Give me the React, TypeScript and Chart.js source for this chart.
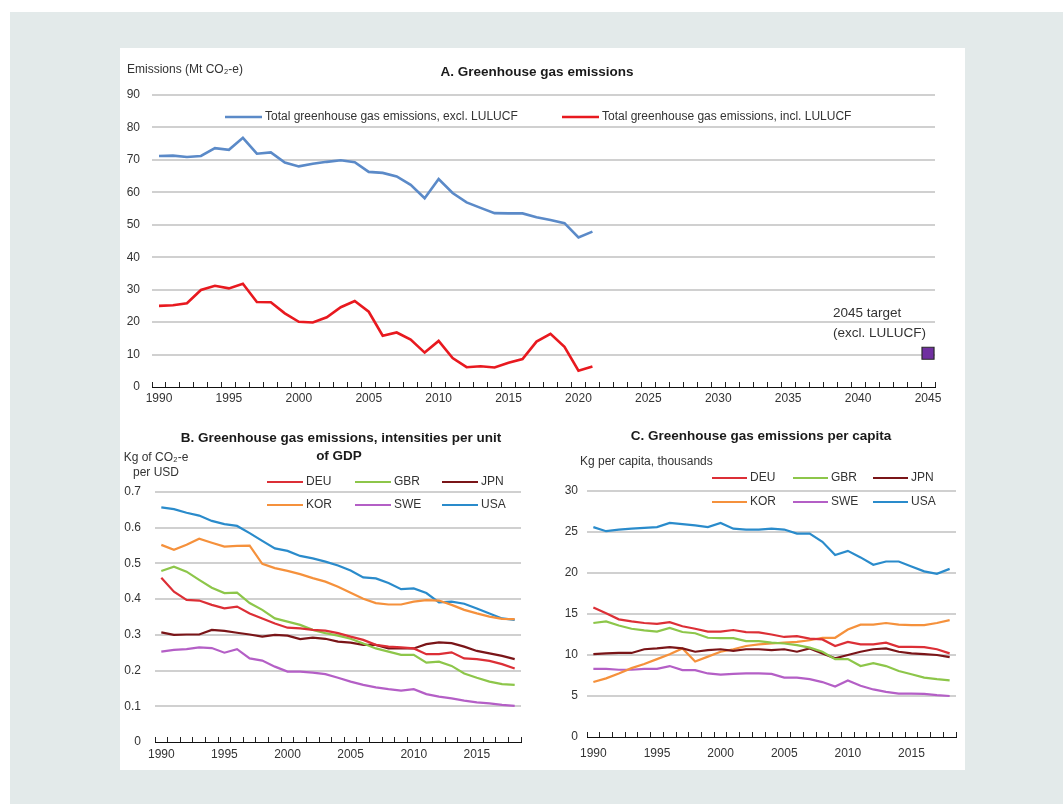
import React, { useEffect, useRef } from 'react';
import { Chart, registerables } from 'chart.js';
Chart.register(...registerables);

// ---------- DATA ----------
const yearsA = [
  '1990','1991','1992','1993','1994','1995','1996','1997','1998','1999',
  '2000','2001','2002','2003','2004','2005','2006','2007','2008','2009',
  '2010','2011','2012','2013','2014','2015','2016','2017','2018','2019',
  '2020','2021','2022','2023','2024','2025','2026','2027','2028','2029',
  '2030','2031','2032','2033','2034','2035','2036','2037','2038','2039',
  '2040','2041','2042','2043','2044','2045',
];
const ghgExcl = [71.2, 71.3, 70.9, 71.2, 73.6, 73.1, 76.8, 71.9, 72.3, 69.2, 68.0, 68.8, 69.4, 69.9, 69.3, 66.3, 66.0, 64.9, 62.3, 58.2, 64.1, 59.8, 56.9, 55.2, 53.6, 53.5, 53.5, 52.3, 51.5, 50.5, 46.1, 47.9];
const ghgIncl = [25.0, 25.2, 25.8, 29.9, 31.2, 30.4, 31.8, 26.2, 26.1, 22.7, 20.1, 19.9, 21.5, 24.6, 26.5, 23.2, 15.8, 16.8, 14.6, 10.6, 14.2, 8.9, 6.1, 6.4, 6.0, 7.5, 8.6, 14.0, 16.4, 12.4, 5.0, 6.3];
const targetYear = '2045';
const targetValue = 10.4;

const yearsBC = [
  '1990','1991','1992','1993','1994','1995','1996','1997','1998','1999',
  '2000','2001','2002','2003','2004','2005','2006','2007','2008','2009',
  '2010','2011','2012','2013','2014','2015','2016','2017','2018',
];
const countries = ['DEU', 'GBR', 'JPN', 'KOR', 'SWE', 'USA'];

const gdpDEU = [0.460, 0.421, 0.398, 0.396, 0.384, 0.374, 0.379, 0.360, 0.346, 0.332, 0.320, 0.318, 0.314, 0.312, 0.305, 0.295, 0.286, 0.272, 0.267, 0.265, 0.262, 0.246, 0.246, 0.251, 0.234, 0.232, 0.227, 0.218, 0.206];
const gdpGBR = [0.479, 0.491, 0.477, 0.454, 0.432, 0.417, 0.418, 0.389, 0.370, 0.346, 0.337, 0.328, 0.314, 0.305, 0.298, 0.289, 0.276, 0.262, 0.253, 0.244, 0.244, 0.222, 0.225, 0.213, 0.192, 0.180, 0.169, 0.162, 0.160];
const gdpJPN = [0.307, 0.300, 0.301, 0.301, 0.314, 0.311, 0.306, 0.301, 0.295, 0.300, 0.298, 0.288, 0.292, 0.289, 0.281, 0.278, 0.272, 0.272, 0.262, 0.262, 0.262, 0.274, 0.279, 0.277, 0.267, 0.255, 0.248, 0.241, 0.232];
const gdpKOR = [0.552, 0.538, 0.552, 0.569, 0.558, 0.547, 0.549, 0.550, 0.499, 0.487, 0.479, 0.470, 0.459, 0.449, 0.435, 0.418, 0.401, 0.389, 0.385, 0.385, 0.393, 0.397, 0.396, 0.384, 0.370, 0.360, 0.351, 0.345, 0.344];
const gdpSWE = [0.253, 0.258, 0.260, 0.265, 0.263, 0.250, 0.260, 0.234, 0.228, 0.211, 0.197, 0.197, 0.194, 0.190, 0.180, 0.169, 0.160, 0.153, 0.148, 0.144, 0.148, 0.134, 0.127, 0.122, 0.116, 0.111, 0.108, 0.104, 0.101];
const gdpUSA = [0.657, 0.652, 0.642, 0.634, 0.619, 0.610, 0.605, 0.585, 0.563, 0.542, 0.535, 0.521, 0.514, 0.505, 0.494, 0.480, 0.461, 0.458, 0.445, 0.428, 0.430, 0.417, 0.391, 0.393, 0.387, 0.374, 0.360, 0.346, 0.342];

const capDEU = [15.8, 15.1, 14.35, 14.1, 13.9, 13.8, 14.0, 13.5, 13.2, 12.85, 12.85, 13.05, 12.8, 12.75, 12.5, 12.2, 12.3, 12.0, 11.9, 11.1, 11.6, 11.3, 11.3, 11.5, 11.0, 11.0, 10.95, 10.7, 10.2];
const capGBR = [13.9, 14.1, 13.6, 13.2, 13.0, 12.85, 13.3, 12.8, 12.65, 12.1, 12.05, 12.05, 11.7, 11.7, 11.5, 11.4, 11.2, 10.9, 10.4, 9.5, 9.5, 8.65, 9.0, 8.65, 8.05, 7.65, 7.25, 7.05, 6.9];
const capJPN = [10.1, 10.2, 10.25, 10.25, 10.7, 10.8, 10.95, 10.8, 10.4, 10.6, 10.7, 10.5, 10.7, 10.7, 10.6, 10.7, 10.4, 10.8, 10.2, 9.6, 10.0, 10.4, 10.7, 10.8, 10.4, 10.2, 10.1, 10.0, 9.75];
const capKOR = [6.7, 7.15, 7.75, 8.4, 8.9, 9.5, 10.1, 10.8, 9.2, 9.8, 10.4, 10.7, 11.1, 11.3, 11.4, 11.5, 11.6, 11.8, 12.1, 12.1, 13.1, 13.7, 13.7, 13.9, 13.7, 13.65, 13.65, 13.9, 14.25];
const capSWE = [8.3, 8.3, 8.2, 8.2, 8.3, 8.3, 8.65, 8.15, 8.15, 7.75, 7.6, 7.7, 7.75, 7.75, 7.7, 7.25, 7.25, 7.05, 6.7, 6.15, 6.9, 6.25, 5.8, 5.5, 5.3, 5.3, 5.25, 5.1, 5.0];
const capUSA = [25.6, 25.1, 25.3, 25.4, 25.5, 25.6, 26.1, 25.95, 25.8, 25.6, 26.1, 25.4, 25.3, 25.3, 25.4, 25.3, 24.8, 24.8, 23.8, 22.2, 22.7, 21.9, 21.0, 21.4, 21.4, 20.8, 20.2, 19.9, 20.5];

const countryColors = ['#dc2f36', '#8dc64a', '#7a1518', '#f5913c', '#b45fc6', '#2a8bcb'];

// ---------- STYLE ----------
const FONT = "'Liberation Sans', Arial, sans-serif";
const TXT = '#333333';
const GRID = '#d0d0d0';

const decorPlugin = {
  id: 'decor',
  afterDraw(chart: any, _args: any, opts: any) {
    const ctx = chart.ctx;
    ctx.save();
    ctx.textBaseline = 'middle';
    (opts.texts || []).forEach((t: any) => {
      ctx.font = t.font;
      ctx.fillStyle = t.color || TXT;
      ctx.textAlign = t.align || 'left';
      ctx.fillText(t.text, t.x, t.y);
    });
    const lg = opts.legend;
    if (lg) {
      let k = 0;
      chart.data.datasets.forEach((ds: any) => {
        if (ds.noLegend) return;
        const col = k % lg.colX.length;
        const row = Math.floor(k / lg.colX.length);
        k++;
        const x = lg.colX[col];
        const y = lg.y + row * lg.rowH;
        ctx.strokeStyle = ds.borderColor;
        ctx.lineWidth = lg.lineWidth;
        ctx.beginPath();
        ctx.moveTo(x, y);
        ctx.lineTo(x + lg.len, y);
        ctx.stroke();
        ctx.font = lg.font;
        ctx.fillStyle = TXT;
        ctx.textAlign = 'left';
        ctx.fillText(ds.label, x + lg.len + lg.gap, y);
      });
    }
    ctx.restore();
  },
};

function makeOptions(p: any) {
  return {
    responsive: false,
    animation: false,
    layout: { padding: p.padding },
    plugins: {
      legend: { display: false },
      tooltip: { enabled: false },
      title: { display: false },
      decor: p.decor,
    },
    scales: {
      x: {
        type: 'category',
        offset: true,
        afterFit: (s: any) => { s.height = p.xHeight; },
        grid: {
          offset: true,
          drawOnChartArea: false,
          drawTicks: true,
          tickLength: -5,
          color: '#222',
          lineWidth: 1,
        },
        border: { display: true, color: '#111', width: 1 },
        ticks: {
          autoSkip: false,
          maxRotation: 0,
          minRotation: 0,
          padding: p.xPad,
          color: TXT,
          font: { family: FONT, size: 12 },
          callback: (_v: any, i: number) => {
            const lbl = p.labels[i];
            return Number(lbl) % 5 === 0 ? lbl : '';
          },
        },
      },
      y: {
        min: 0,
        max: p.yMax,
        afterFit: (s: any) => { s.width = p.yWidth; },
        grid: {
          drawTicks: false,
          lineWidth: 2,
          color: (c: any) => (c.tick && c.tick.value === 0 ? 'rgba(0,0,0,0)' : GRID),
        },
        border: { display: false },
        ticks: {
          stepSize: p.step,
          padding: p.yPad,
          color: TXT,
          font: { family: FONT, size: 12 },
          callback: p.fmt,
        },
      },
    },
  };
}

function ChartBox({ config, left, top, width, height }: any) {
  const ref = useRef<HTMLCanvasElement>(null);
  useEffect(() => {
    const chart = new Chart(ref.current as HTMLCanvasElement, config);
    return () => chart.destroy();
  }, []);
  return (
    <canvas
      ref={ref}
      width={width}
      height={height}
      style={{ position: 'absolute', left, top, width, height }}
    />
  );
}

const lineDs = (label: string, data: number[], color: string, w: number) => ({
  type: 'line',
  label,
  data,
  borderColor: color,
  backgroundColor: color,
  borderWidth: w,
  pointRadius: 0,
  tension: 0,
  fill: false,
});

const configA: any = {
  type: 'line',
  data: {
    labels: yearsA,
    datasets: [
      lineDs('Total greenhouse gas emissions, excl. LULUCF', ghgExcl, '#5b8ac8', 2.6),
      lineDs('Total greenhouse gas emissions, incl. LULUCF', ghgIncl, '#e8191f', 2.6),
      {
        type: 'line',
        label: '2045 target (excl. LULUCF)',
        noLegend: true,
        data: [{ x: targetYear, y: targetValue }],
        showLine: false,
        pointStyle: 'rect',
        pointRadius: 8.5,
        borderWidth: 1.2,
        borderColor: '#2a2a2a',
        backgroundColor: '#7030a0',
      },
    ],
  },
  options: makeOptions({
    labels: yearsA,
    yMax: 90,
    step: 10,
    yWidth: 32,
    yPad: 12,
    xHeight: 22,
    xPad: 9,
    padding: { top: 47, right: 30, left: 0, bottom: 11 },
    fmt: (v: any) => String(v),
    decor: {
      texts: [
        { text: 'A. Greenhouse gas emissions', x: 417, y: 24, font: `bold 13.5px ${FONT}`, align: 'center', color: '#1a1a1a' },
        { text: 'Emissions (Mt CO₂-e)', x: 7, y: 22, font: `12px ${FONT}` },
        { text: '2045 target', x: 713, y: 265, font: `13.5px ${FONT}` },
        { text: '(excl. LULUCF)', x: 713, y: 285, font: `13.5px ${FONT}` },
      ],
      legend: { colX: [105, 442], y: 69, rowH: 0, len: 37, gap: 3, lineWidth: 2.6, font: `12px ${FONT}` },
    },
  }),
  plugins: [decorPlugin],
};

const configB: any = {
  type: 'line',
  data: {
    labels: yearsBC,
    datasets: [gdpDEU, gdpGBR, gdpJPN, gdpKOR, gdpSWE, gdpUSA].map((d, i) => lineDs(countries[i], d, countryColors[i], 2.2)),
  },
  options: makeOptions({
    labels: yearsBC,
    yMax: 0.7,
    step: 0.1,
    yWidth: 35,
    yPad: 14,
    xHeight: 22,
    xPad: 10,
    padding: { top: 67, right: 14, left: 0, bottom: 6 },
    fmt: (v: any) => (v === 0 ? '0' : Number(v).toFixed(1)),
    decor: {
      texts: [
        { text: 'B. Greenhouse gas emissions, intensities per unit', x: 221, y: 13, font: `bold 13.5px ${FONT}`, align: 'center', color: '#1a1a1a' },
        { text: 'of GDP', x: 219, y: 31, font: `bold 13.5px ${FONT}`, align: 'center', color: '#1a1a1a' },
        { text: 'Kg of CO₂-e', x: 36, y: 33, font: `12px ${FONT}`, align: 'center' },
        { text: 'per USD', x: 36, y: 48, font: `12px ${FONT}`, align: 'center' },
      ],
      legend: { colX: [147, 235, 322], y: 57, rowH: 23, len: 36, gap: 3, lineWidth: 2.2, font: `12px ${FONT}` },
    },
  }),
  plugins: [decorPlugin],
};

const configC: any = {
  type: 'line',
  data: {
    labels: yearsBC,
    datasets: [capDEU, capGBR, capJPN, capKOR, capSWE, capUSA].map((d, i) => lineDs(countries[i], d, countryColors[i], 2.2)),
  },
  options: makeOptions({
    labels: yearsBC,
    yMax: 30,
    step: 5,
    yWidth: 47,
    yPad: 9,
    xHeight: 22,
    xPad: 14,
    padding: { top: 66, right: 9, left: 0, bottom: 11 },
    fmt: (v: any) => String(v),
    decor: {
      texts: [
        { text: 'C. Greenhouse gas emissions per capita', x: 221, y: 11, font: `bold 13.5px ${FONT}`, align: 'center', color: '#1a1a1a' },
        { text: 'Kg per capita, thousands', x: 40, y: 37, font: `12px ${FONT}` },
      ],
      legend: { colX: [172, 253, 333], y: 53, rowH: 24, len: 35, gap: 3, lineWidth: 2.2, font: `12px ${FONT}` },
    },
  }),
  plugins: [decorPlugin],
};

export default function App() {
  return (
    <div style={{ position: 'absolute', left: 0, top: 0, width: 1063, height: 804, background: '#ffffff', overflow: 'hidden' }}>
      <div style={{ position: 'absolute', left: 10, top: 12, width: 1053, height: 792, background: '#e3eaea' }} />
      <div style={{ position: 'absolute', left: 120, top: 48, width: 845, height: 722, background: '#ffffff' }} />
      <ChartBox config={configA} left={120} top={48} width={845} height={372} />
      <ChartBox config={configB} left={120} top={425} width={415} height={345} />
      <ChartBox config={configC} left={540} top={425} width={425} height={345} />
    </div>
  );
}
